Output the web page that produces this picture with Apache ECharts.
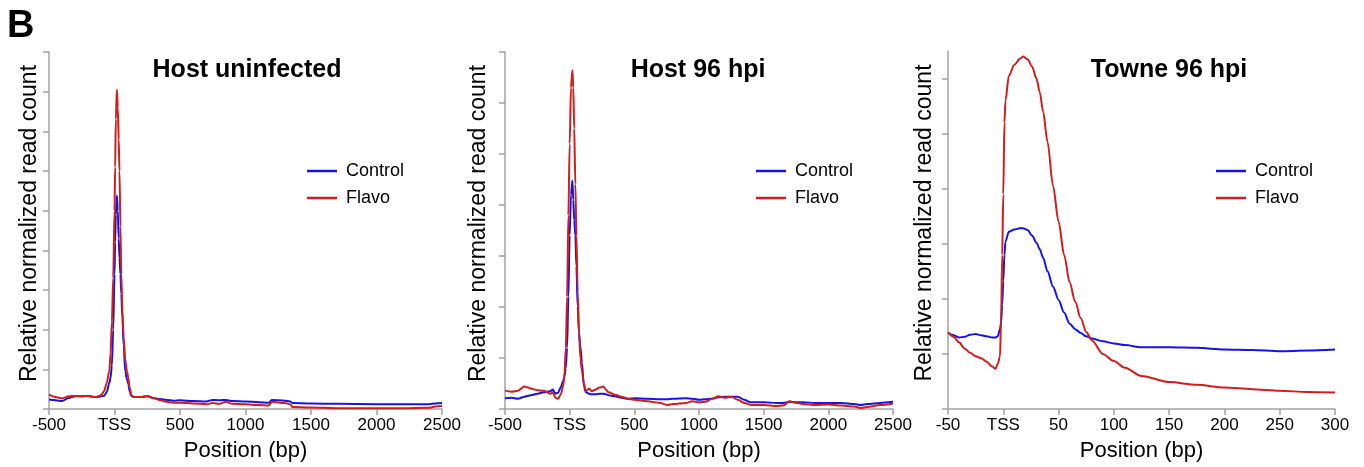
<!DOCTYPE html>
<html>
<head>
<meta charset="utf-8">
<script src="https://cdn.jsdelivr.net/npm/echarts@6/dist/echarts.min.js"></script>
<style>
  html, body { margin: 0; padding: 0; background: #fff; }
  #main { width: 1364px; height: 467px; }
</style>
</head>
<body>
<div id="main"></div>
<script>
// panel 1: host uninfected
var hostUninfPos = [-500, -450, -400, -350, -300, -250, -200, -150, -120, -100, -80, -60, -40, -30, -20, -10, 0, 5, 10, 18, 25, 32, 38, 45, 52, 60, 70, 82, 95, 105, 115, 130, 150, 200, 250, 300, 350, 400, 450, 500, 600, 700, 750, 800, 850, 900, 1000, 1100, 1180, 1200, 1300, 1340, 1360, 1500, 1700, 2000, 2200, 2400, 2450, 2500];
var hostUninfControl = [0.24, 0.22, 0.20, 0.28, 0.32, 0.32, 0.33, 0.30, 0.31, 0.32, 0.33, 0.42, 0.65, 0.8, 1.1, 2.0, 3.4, 4.2, 4.9, 5.38, 5.0, 4.3, 3.8, 3.4, 2.9, 2.3, 1.6, 0.95, 0.75, 0.65, 0.45, 0.32, 0.30, 0.30, 0.32, 0.27, 0.25, 0.23, 0.21, 0.22, 0.20, 0.19, 0.23, 0.22, 0.23, 0.20, 0.19, 0.17, 0.16, 0.23, 0.21, 0.19, 0.15, 0.14, 0.13, 0.12, 0.12, 0.12, 0.14, 0.15];
var hostUninfFlavo = [0.36, 0.30, 0.27, 0.32, 0.33, 0.32, 0.33, 0.30, 0.32, 0.36, 0.45, 0.65, 0.95, 1.4, 2.2, 3.3, 5.0, 6.1, 7.3, 8.05, 7.6, 6.8, 6.0, 4.6, 3.4, 2.5, 1.8, 1.25, 0.95, 0.8, 0.55, 0.34, 0.30, 0.30, 0.33, 0.28, 0.22, 0.18, 0.16, 0.16, 0.14, 0.12, 0.15, 0.13, 0.18, 0.13, 0.12, 0.10, 0.09, 0.18, 0.15, 0.12, 0.05, 0.04, 0.02, 0.02, 0.02, 0.03, 0.06, 0.08];

// panel 2: host 96 hpi
var host96Pos = [-500, -450, -400, -350, -320, -300, -250, -200, -150, -130, -110, -90, -70, -50, -40, -30, -20, -10, 0, 10, 21, 28, 35, 44, 52, 62, 72, 83, 95, 110, 125, 150, 170, 200, 230, 260, 280, 300, 350, 400, 450, 500, 600, 700, 750, 800, 900, 950, 1000, 1050, 1100, 1150, 1200, 1250, 1300, 1350, 1400, 1500, 1600, 1650, 1700, 1750, 1800, 1900, 2000, 2100, 2200, 2250, 2300, 2400, 2500];
var host96Control = [0.21, 0.22, 0.20, 0.24, 0.26, 0.27, 0.30, 0.33, 0.35, 0.38, 0.30, 0.32, 0.42, 0.55, 0.65, 0.8, 1.2, 2.2, 3.4, 4.2, 4.48, 4.1, 3.7, 3.4, 2.8, 2.0, 1.5, 1.22, 0.9, 0.45, 0.33, 0.30, 0.29, 0.29, 0.30, 0.30, 0.29, 0.27, 0.25, 0.22, 0.20, 0.21, 0.20, 0.19, 0.19, 0.20, 0.21, 0.20, 0.18, 0.19, 0.20, 0.23, 0.24, 0.24, 0.24, 0.18, 0.13, 0.13, 0.12, 0.12, 0.14, 0.13, 0.13, 0.12, 0.12, 0.12, 0.10, 0.08, 0.10, 0.12, 0.14];
var host96Flavo = [0.36, 0.34, 0.36, 0.44, 0.42, 0.40, 0.37, 0.36, 0.30, 0.33, 0.22, 0.20, 0.28, 0.45, 0.7, 1.2, 2.2, 3.8, 5.2, 6.3, 6.64, 6.3, 5.5, 4.4, 3.4, 2.3, 1.5, 1.0, 0.75, 0.5, 0.35, 0.40, 0.35, 0.38, 0.42, 0.44, 0.38, 0.33, 0.28, 0.24, 0.20, 0.18, 0.15, 0.12, 0.08, 0.10, 0.12, 0.15, 0.13, 0.14, 0.20, 0.25, 0.22, 0.24, 0.18, 0.12, 0.08, 0.08, 0.06, 0.07, 0.15, 0.12, 0.10, 0.08, 0.09, 0.07, 0.05, 0.02, 0.04, 0.08, 0.11];

// panel 3: Towne 96 hpi
var townePos = [-50, -45, -40, -35, -30, -25, -20, -15, -10, -7, -5, -3, -2, -1, 0, 1, 2, 5, 10, 15, 18, 22, 26, 30, 33, 36, 40, 45, 50, 55, 60, 65, 70, 75, 80, 90, 100, 110, 125, 150, 175, 200, 225, 250, 275, 300];
var towneControl = [1.39, 1.34, 1.30, 1.31, 1.35, 1.36, 1.34, 1.32, 1.30, 1.30, 1.32, 1.45, 1.57, 1.9, 2.32, 2.8, 3.04, 3.22, 3.26, 3.28, 3.28, 3.25, 3.15, 3.02, 2.9, 2.75, 2.5, 2.22, 1.98, 1.75, 1.55, 1.45, 1.38, 1.32, 1.28, 1.23, 1.19, 1.16, 1.12, 1.12, 1.11, 1.08, 1.07, 1.05, 1.06, 1.08];
var towneFlavo = [1.39, 1.31, 1.21, 1.10, 1.02, 0.96, 0.92, 0.86, 0.77, 0.73, 0.82, 0.95, 1.6, 2.8, 3.9, 5.2, 5.6, 6.05, 6.25, 6.36, 6.40, 6.35, 6.22, 6.0, 5.75, 5.4, 4.85, 4.05, 3.4, 2.8, 2.3, 1.95, 1.65, 1.4, 1.25, 1.0, 0.87, 0.75, 0.6, 0.49, 0.44, 0.39, 0.36, 0.33, 0.31, 0.30];

var panelTitles = ["Host uninfected", "Host 96 hpi", "Towne 96 hpi"];
var seriesNames = ["Control", "Flavo"];

var FONT = "'Liberation Sans', Arial, sans-serif";
var BLUE = "#1414e6";
var RED = "#d41c1c";
var AXIS_GRAY = "#a3a3a3";

function pairs(xs, ys) {
  var out = [];
  for (var i = 0; i < xs.length; i++) out.push([xs[i], ys[i]]);
  return out;
}

var grids = [
  { left: 49, top: 52, width: 393, height: 360 },
  { left: 505, top: 52, width: 388, height: 359 },
  { left: 948, top: 51, width: 387, height: 361 }
];

function xAxisFor(i, min, max, interval) {
  return {
    gridIndex: i,
    type: "value",
    min: min,
    max: max,
    interval: interval,
    name: "Position (bp)",
    nameLocation: "middle",
    nameGap: 31,
    nameTextStyle: { fontFamily: FONT, fontSize: 22, color: "#000" },
    axisLine: { show: true, onZero: false, lineStyle: { color: AXIS_GRAY, width: 1.5 } },
    axisTick: { show: true, length: 6, lineStyle: { color: AXIS_GRAY, width: 1.5 } },
    splitLine: { show: false },
    axisLabel: {
      fontFamily: FONT, fontSize: 17, color: "#000", margin: 8,
      showMinLabel: true, showMaxLabel: true,
      formatter: function (v) { return v === 0 ? "TSS" : String(v); }
    }
  };
}

function yAxisFor(i, max, gap, ticks) {
  var tick = { show: true, length: 6, lineStyle: { color: AXIS_GRAY, width: 1.5 } };
  if (ticks) tick.customValues = ticks;
  return {
    gridIndex: i,
    type: "value",
    min: 0,
    max: max,
    interval: 1,
    name: "Relative normalized read count",
    nameLocation: "middle",
    nameGap: gap,
    nameTextStyle: { fontFamily: FONT, fontSize: 23, color: "#000", padding: [0, 0, 0, 14] },
    axisLine: { show: true, onZero: false, lineStyle: { color: AXIS_GRAY, width: 1.5 } },
    axisTick: tick,
    splitLine: { show: false },
    axisLabel: { show: false }
  };
}

function legendFor(left) {
  return {
    orient: "vertical",
    left: left,
    top: 157,
    data: seriesNames,
    icon: "rect",
    itemWidth: 30,
    itemHeight: 2.5,
    itemGap: 9,
    selectedMode: false,
    textStyle: { fontFamily: FONT, fontSize: 18, color: "#000", padding: [0, 0, 0, 4] }
  };
}

function lineSeries(name, idx, xs, ys, color) {
  return {
    name: name,
    type: "line",
    xAxisIndex: idx,
    yAxisIndex: idx,
    data: pairs(xs, ys),
    symbol: "none",
    smooth: 0.3,
    smoothMonotone: "x",
    lineStyle: { color: color, width: 2 },
    itemStyle: { color: color }
  };
}

var titleCenters = [247, 698, 1169];
var graphics = [
  { type: "text", x: 7, y: 8, style: { text: "B", font: "bold 38px " + FONT, fill: "#000" } }
];
for (var t = 0; t < panelTitles.length; t++) {
  graphics.push({
    type: "text", x: titleCenters[t], y: 58,
    style: { text: panelTitles[t], font: "bold 25px " + FONT, fill: "#000", align: "center", verticalAlign: "top" }
  });
}

var option = {
  animation: false,
  backgroundColor: "#fff",
  grid: grids,
  xAxis: [xAxisFor(0, -500, 2500, 500), xAxisFor(1, -500, 2500, 500), xAxisFor(2, -50, 300, 50)],
  yAxis: [yAxisFor(0, 9, 8), yAxisFor(1, 7, 15), yAxisFor(2, 6.5, 12, [0, 1, 2, 3, 4, 5, 6])],
  legend: [legendFor(302), legendFor(751), legendFor(1211)],
  graphic: graphics,
  series: [
    lineSeries("Control", 0, hostUninfPos, hostUninfControl, BLUE),
    lineSeries("Flavo", 0, hostUninfPos, hostUninfFlavo, RED),
    lineSeries("Control", 1, host96Pos, host96Control, BLUE),
    lineSeries("Flavo", 1, host96Pos, host96Flavo, RED),
    lineSeries("Control", 2, townePos, towneControl, BLUE),
    lineSeries("Flavo", 2, townePos, towneFlavo, RED)
  ]
};

var chartDom = document.getElementById("main");
var myChart = echarts.init(chartDom);
myChart.setOption(option);
</script>
</body>
</html>
